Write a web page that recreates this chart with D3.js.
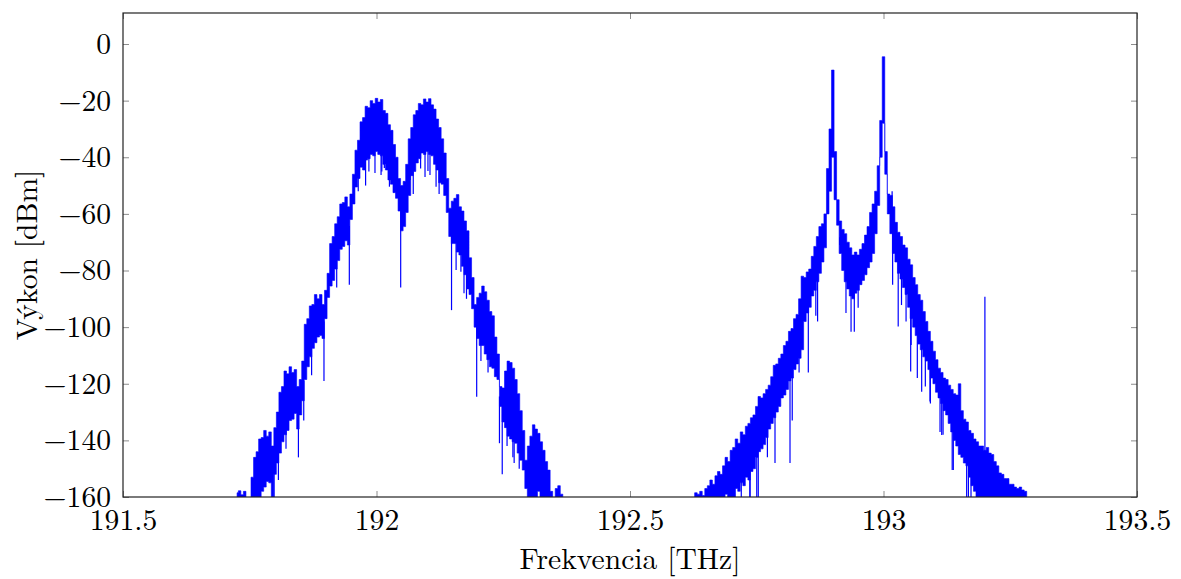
<!DOCTYPE html>
<html>
<head>
<meta charset="utf-8">
<script src="https://cdn.jsdelivr.net/npm/d3@7"></script>
<style>
  body { margin: 0; background: #fff; }
</style>
</head>
<body>
<svg id="chart" width="1181" height="579"></svg>
<script>
// Spectrum bins: each bin holds the max and min power seen inside it (dBm)
const binWidth = 0.005; // THz

// Group A: two modulated channels at 192.0 and 192.1 THz
const groupAStart = 191.725;
const groupAMax = [
  -158.5, -157.8, -159.2, -158, -170, -170, -153, -146, -144, -139.5,
  -139, -136.5, -138.5, -137, -142, -135.5, -130, -123, -121, -115.5,
  -116.5, -114, -116, -115, -121, -118.5, -112, -99, -97, -92.5,
  -92, -88.5, -90, -88.5, -92, -87, -81, -70.5, -68, -63.5,
  -61, -56.5, -56, -54, -57.5, -53, -46, -37.5, -34, -27.5,
  -26, -22, -22.5, -20, -21, -19.2, -20.5, -19.6, -23.5, -24.5,
  -28.5, -30.5, -35.5, -40, -47.5, -50, -48.5, -42.5, -33.5, -29.5,
  -25, -23.5, -21, -21.5, -19.4, -20.5, -19.3, -21.5, -23, -26.5,
  -29.5, -33.5, -38.5, -47.5, -58, -55.5, -54.5, -53.2, -57.5, -59,
  -62.5, -66, -75.5, -82.5, -92, -89.5, -88, -85.5, -87.5, -90.5,
  -94.5, -96, -103.5, -109.5, -121, -121.5, -115.5, -112, -112.5, -114.5,
  -118.5, -123.5, -129.5, -136.5, -147, -142, -138.5, -134.5, -136, -137.5,
  -140.5, -143.5, -147.5, -150.5, -158, -170, -157, -156, -159, -170,
  -170
];
const groupAMin = [
  -170, -170, -170, -170, -170, -170, -170, -170, -166, -162,
  -158, -156.5, -154.5, -155, -160, -152, -148, -144.5, -140.5, -138,
  -136.5, -133, -132.5, -130.5, -136, -131, -126, -118.5, -114, -110.5,
  -107.5, -105.5, -103.5, -103, -104, -97, -89.5, -85.5, -83.5, -79.5,
  -76.5, -72.5, -71.5, -69.5, -71, -62, -56.5, -50.5, -47.5, -43.5,
  -44.5, -41, -40.5, -39, -39.5, -38, -39, -39.5, -42.5, -44.5,
  -48, -49.5, -52.5, -54.5, -59, -66, -64.5, -59.5, -53.5, -46.5,
  -45, -42, -40.5, -38.5, -39, -38, -39, -39.5, -42.5, -44.5,
  -49, -49.5, -53.5, -59.5, -68, -70.5, -70.5, -73.5, -74.5, -78.5,
  -81.5, -86.5, -88.5, -93.5, -100, -104, -106.5, -106.5, -109.5, -111.5,
  -114, -114.5, -117.5, -118.5, -128, -133.5, -135.5, -138.5, -139.5, -140.5,
  -141, -144.5, -147, -150.5, -157, -163, -165, -162, -160.5, -158,
  -160.5, -165, -166, -168, -170, -170, -170, -170, -170, -170,
  -170
];

// Group B: two narrow carriers at 192.9 and 193.0 THz
const groupBStart = 192.625;
const groupBMax = [
  -170, -158.5, -159, -158, -159.5, -157, -156, -154, -155.5, -152.5,
  -151, -152, -149, -146, -147.5, -143.5, -142.5, -139.5, -141, -137,
  -138, -135, -134, -132, -131, -128, -124.5, -125, -123.5, -122,
  -120.5, -117.5, -113.5, -113, -111, -109.5, -106.5, -105, -101.5, -100.5,
  -97, -95.5, -90, -82, -82.5, -80.5, -79.5, -75, -71.5, -68,
  -64.5, -63.5, -60, -44, -30, -9.2, -38, -55, -62.5, -65.5,
  -67, -70, -72, -74.5, -73.5, -74.5, -72.5, -70.5, -67.5, -64.5,
  -59.5, -56.5, -52, -43, -27, -4.5, -38, -53, -53.5, -57.5,
  -63, -66.5, -68, -71, -72, -76, -78, -82.5, -85, -88.5,
  -90.5, -94.5, -98, -101.5, -105, -108.5, -111.5, -114.5, -116, -118,
  -118.5, -120.5, -122, -123.5, -124, -120, -129.5, -132.5, -133.5, -136.5,
  -137.5, -139.5, -140.5, -142, -142, -143.5, -142.5, -144.5, -145, -147.5,
  -149, -151.5, -152, -153.5, -153.5, -155.5, -155.5, -156.5, -157, -156.5,
  -157.5, -158, -170
];
const groupBMin = [
  -170, -165, -166, -164, -167, -165, -166, -163, -165, -162,
  -163, -161, -162, -159, -160, -160, -161, -157, -158, -155,
  -156, -153, -154, -151, -150, -146, -144, -143, -141.5, -139,
  -136, -134, -132, -130, -128, -125, -124, -122, -119, -118,
  -115, -113, -111, -108, -98, -95, -93, -89, -87, -84,
  -81, -77, -72, -60, -52, -40, -55, -64, -74, -80,
  -84, -86.5, -89, -90, -88, -87, -85, -83.5, -81.5, -79,
  -77, -74, -67, -57, -40, -28, -46, -60, -67, -74,
  -77, -81, -83, -86, -88.5, -93, -97, -100, -103, -106,
  -108, -110.5, -112, -115, -118, -120, -123, -125, -127, -129.5,
  -131, -134, -137, -140, -142, -145, -146, -148, -149, -153,
  -156, -158, -160, -161, -163, -165, -164, -166, -165, -167,
  -166, -168, -167, -169, -168, -170, -169, -170, -170, -170,
  -170, -170, -170
];

// Isolated samples reaching past the band (dBm), incl. the mixing product at 193.2 THz
const spikeFreq = [
  191.798, 191.8215, 191.846, 191.872, 191.8964, 191.9215, 191.9464, 191.964,
  191.985, 191.997, 192.009, 192.0477, 192.087, 192.0957, 192.1055, 192.148,
  192.157, 192.1726, 192.1976, 192.206, 192.22, 192.248, 192.269, 192.303, 192.325,
  191.8065, 191.8565, 191.9785, 192.0105, 192.0155, 192.0255, 192.0595, 192.0665,
  192.0725, 192.1015, 192.1175, 192.1235, 192.1595, 192.1665, 192.1775, 192.2425,
  192.2575, 192.2715, 192.2815, 192.3115, 192.3235,
  192.697, 192.707, 192.7367, 192.75, 192.753, 192.771, 192.786, 192.8156, 192.82,
  192.8517, 192.870, 192.926, 192.936, 192.9424, 192.950, 193.017, 193.018, 193.029,
  193.0536, 193.0667, 193.0753, 193.0917, 193.1148, 193.1377, 193.164, 193.1726,
  193.1844, 193.2,
  192.6795, 192.7195, 192.7365, 192.8335, 192.8665, 192.9135, 192.9565, 193.0355,
  193.0445, 193.0545, 193.0825, 193.0925, 193.1115, 193.1175, 193.1355, 193.1675,
  193.1835
];
const spikeLevel = [
  -165, -143, -146, -117, -119, -86, -85, -52,
  -45, -45.6, -46.3, -86, -44, -47, -46.3, -94,
  -79.8, -88, -124.6, -112, -116, -152, -146, -163, -165,
  -154, -133, -50, -45, -43.8, -50.4, -54, -48,
  -53, -44.9, -50.4, -53, -68, -80.4, -90, -141,
  -142, -148, -150, -170, -170,
  -170, -170, -170, -170, -170, -146, -148, -148, -133,
  -116, -98, -95, -101.6, -101.6, -93.2, -52, -85, -99.8,
  -115.7, -118, -122.8, -126.3, -138.1, -150.5, -170, -170,
  -170, -89.3,
  -170, -170, -160, -116, -96, -71, -77, -92.2,
  -98, -106.3, -121, -127, -137, -138, -150.5, -170,
  -170
];

const xTicks = [191.5, 192, 192.5, 193, 193.5];
const yTicks = [-160, -140, -120, -100, -80, -60, -40, -20, 0];

const fontStack = '"Latin Modern Roman", "Liberation Serif", serif';
const fontSize = "29.6px";
const plot = { left: 123, right: 1137, top: 13, bottom: 497 };
const svg = d3.select("#chart");

const x = d3.scaleLinear().domain([191.5, 193.5]).range([plot.left, plot.right]);
const y = d3.scaleLinear().domain([-160, 10.95]).range([plot.bottom, plot.top]);

function binsOf(start, maxes, mins) {
  return maxes.map((hi, i) => ({ f: start + i * binWidth, hi: hi, lo: mins[i] }));
}
const groups = [
  { start: groupAStart, bins: binsOf(groupAStart, groupAMax, groupAMin) },
  { start: groupBStart, bins: binsOf(groupBStart, groupBMax, groupBMin) }
];

svg.append("defs").append("clipPath").attr("id", "plotClip")
  .append("rect")
  .attr("x", plot.left).attr("y", plot.top)
  .attr("width", plot.right - plot.left).attr("height", plot.bottom - plot.top);

const dataLayer = svg.append("g").attr("clip-path", "url(#plotClip)");

const band = d3.area()
  .x(d => x(d.f))
  .y0(d => y(d.lo))
  .y1(d => y(d.hi))
  .curve(d3.curveStep);

groups.forEach(g => {
  dataLayer.append("path")
    .datum(g.bins)
    .attr("d", band)
    .attr("fill", "#0000ff")
    .attr("stroke", "#0000ff")
    .attr("stroke-width", 0.6);
});

// spikes run from the middle of their bin's band out to the spike level
const spikes = spikeFreq.map((f, k) => {
  const g = groups.find(gr => f >= gr.start - binWidth && f <= gr.start + binWidth * gr.bins.length);
  let base = spikeLevel[k];
  if (g) {
    const i = Math.max(0, Math.min(g.bins.length - 1, Math.round((f - g.start) / binWidth)));
    base = (g.bins[i].hi + g.bins[i].lo) / 2;
  }
  return { f: f, level: spikeLevel[k], base: base };
});

dataLayer.selectAll("line.spike")
  .data(spikes)
  .join("line")
  .attr("class", "spike")
  .attr("x1", d => x(d.f)).attr("x2", d => x(d.f))
  .attr("y1", d => y(d.base)).attr("y2", d => y(d.level))
  .attr("stroke", "#0000ff")
  .attr("stroke-width", 1.2);

// axes: inward ticks mirrored on all four sides
const tickLen = 6;
const fmtX = d => String(d);
const fmtY = d3.format("d");

function styleAxis(sel, showLabels) {
  sel.select(".domain").remove();
  sel.selectAll(".tick line").attr("stroke", "#8c8c8c").attr("stroke-width", 1);
  if (!showLabels) sel.selectAll(".tick text").remove();
  else sel.selectAll(".tick text")
    .style("font-family", fontStack)
    .style("font-size", fontSize)
    .attr("fill", "#000");
}

svg.append("g")
  .attr("transform", `translate(0,${plot.bottom})`)
  .call(d3.axisBottom(x).tickValues(xTicks).tickFormat(fmtX).tickSizeInner(-tickLen).tickSizeOuter(0).tickPadding(12))
  .call(s => styleAxis(s, true));

svg.append("g")
  .attr("transform", `translate(0,${plot.top})`)
  .call(d3.axisTop(x).tickValues(xTicks).tickSizeInner(-tickLen).tickSizeOuter(0))
  .call(s => styleAxis(s, false));

svg.append("g")
  .attr("transform", `translate(${plot.left},0)`)
  .call(d3.axisLeft(y).tickValues(yTicks).tickFormat(fmtY).tickSizeInner(-tickLen).tickSizeOuter(0).tickPadding(12))
  .call(s => styleAxis(s, true));

svg.append("g")
  .attr("transform", `translate(${plot.right},0)`)
  .call(d3.axisRight(y).tickValues(yTicks).tickSizeInner(-tickLen).tickSizeOuter(0))
  .call(s => styleAxis(s, false));

// frame
svg.append("rect")
  .attr("x", plot.left).attr("y", plot.top)
  .attr("width", plot.right - plot.left).attr("height", plot.bottom - plot.top)
  .attr("fill", "none").attr("stroke", "#222").attr("stroke-width", 1.2);

// axis titles
svg.append("text")
  .attr("x", (plot.left + plot.right) / 2)
  .attr("y", 569)
  .attr("text-anchor", "middle")
  .style("font-family", fontStack)
  .style("font-size", fontSize)
  .text("Frekvencia [THz]");

svg.append("text")
  .attr("transform", `translate(37,${(plot.top + plot.bottom) / 2}) rotate(-90)`)
  .attr("text-anchor", "middle")
  .style("font-family", fontStack)
  .style("font-size", fontSize)
  .text("Výkon [dBm]");
</script>
</body>
</html>
